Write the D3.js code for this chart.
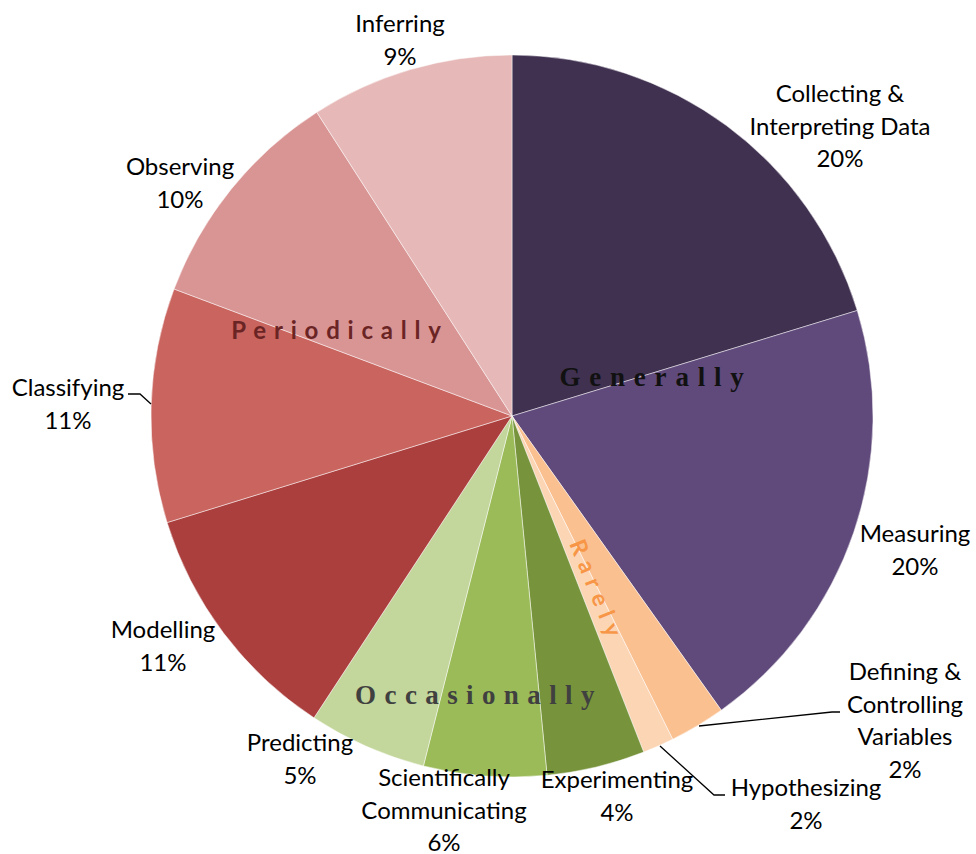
<!DOCTYPE html>
<html><head><meta charset="utf-8">
<script src="https://cdn.jsdelivr.net/npm/d3@7"></script>
<style>body{margin:0;background:#fff}svg{display:block}</style>
</head><body>
<script>
const categories = ["Collecting & Interpreting Data","Measuring","Defining & Controlling Variables","Hypothesizing","Experimenting","Scientifically Communicating","Predicting","Modelling","Classifying","Observing","Inferring"];
const values = [20.3,19.9,2.5,1.4,4.4,5.5,5.3,11.0,10.5,10.2,9.1];
const percentLabels = ["20%","20%","2%","2%","4%","6%","5%","11%","11%","10%","9%"];
const labelLines = [["Collecting &","Interpreting Data"],["Measuring"],["Defining &","Controlling","Variables"],["Hypothesizing"],["Experimenting"],["Scientifically","Communicating"],["Predicting"],["Modelling"],["Classifying"],["Observing"],["Inferring"]];
const colors = ["#403151","#604a7b","#fac090","#fcd5b5","#77933c","#9bbb59","#c3d69b","#aa3f3d","#c9645f","#d99594","#e6b9b8"];
const groups = ["Generally","Periodically","Occasionally","Rarely"];

// layout (label block top-line centers)
const labelPos = [[840,92],[915,532],[905,670],[806,786],[617,778],[444,776],[300,741],[163,628],[68,386],[180,165],[400,22]];
const lineH = 32.5;

const W=976,H=854,cx=512,cy=416,R=361;
const svg=d3.select("body").append("svg").attr("width",W).attr("height",H);
const pie=d3.pie().sort(null).value(d=>d);
const arcs=pie(values);
const arc=d3.arc().innerRadius(0).outerRadius(R);
const g=svg.append("g").attr("transform",`translate(${cx},${cy})`);
g.selectAll("path").data(arcs).join("path")
 .attr("d",arc).attr("fill",(d,i)=>colors[i])
 .attr("stroke","#fff").attr("stroke-width",0.8).attr("stroke-opacity",0.6);

// leader lines
const leaders=[
 [[128,394],[140,394],[151,404]],
 [[699,726],[832,712],[840,712]],
 [[660,746],[714,795],[725,795]]
];
svg.selectAll("path.leader").data(leaders).join("path").attr("class","leader")
 .attr("d",d=>d3.line()(d)).attr("fill","none").attr("stroke","#000").attr("stroke-width",1.3);

// labels
const lab=svg.append("g").attr("font-family","Lato, 'Open Sans', sans-serif").attr("font-size",24).attr("fill","#000").attr("text-anchor","middle");
categories.forEach((c,i)=>{
  const lines=labelLines[i].concat([percentLabels[i]]);
  const t=lab.append("text").attr("x",labelPos[i][0]).attr("y",labelPos[i][1]).attr("dominant-baseline","central");
  lines.forEach((s,j)=>t.append("tspan").attr("x",labelPos[i][0]).attr("y",labelPos[i][1]+j*lineH).text(s));
});

// group labels
svg.append("text").attr("x",656).attr("y",377).attr("text-anchor","middle").attr("dominant-baseline","central")
 .attr("font-family","'Liberation Serif', serif").attr("font-weight","bold").attr("font-size",27)
 .attr("letter-spacing",8.8).attr("fill","#111").text(groups[0]);
svg.append("text").attr("x",340).attr("y",329).attr("text-anchor","middle").attr("dominant-baseline","central")
 .attr("font-family","Lato, sans-serif").attr("font-weight","bold").attr("font-size",24)
 .attr("letter-spacing",7.8).attr("fill","#6b2424").text(groups[1]);
svg.append("text").attr("x",479).attr("y",695).attr("text-anchor","middle").attr("dominant-baseline","central")
 .attr("font-family","'Liberation Serif', serif").attr("font-weight","bold").attr("font-size",27)
 .attr("letter-spacing",8.4).attr("fill","#404040").text(groups[2]);
svg.append("text").attr("transform","translate(598,591) rotate(68)").attr("text-anchor","middle").attr("dominant-baseline","central")
 .attr("font-family","Lato, sans-serif").attr("font-weight","bold").attr("font-size",23)
 .attr("letter-spacing",7.5).attr("fill","#f79646").text(groups[3]);
</script>
</body></html>
